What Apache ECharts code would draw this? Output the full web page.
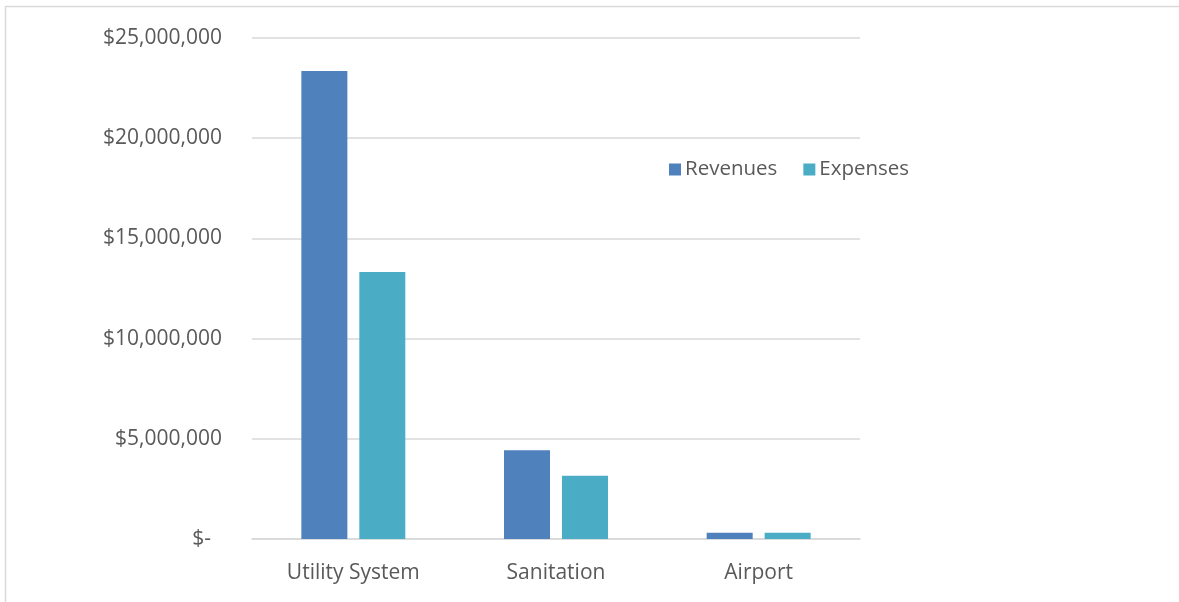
<!DOCTYPE html>
<html>
<head>
<meta charset="utf-8">
<script src="https://cdn.jsdelivr.net/npm/echarts@6/dist/echarts.min.js"></script>
<style>
  html, body { margin: 0; padding: 0; background: #ffffff; }
  #chart { width: 1179px; height: 602px; }
</style>
</head>
<body>
<div id="chart"></div>
<script>
// Fund categories and their annual totals (USD)
const categories = ['Utility System', 'Sanitation', 'Airport'];
const revenues = [23350000, 4430000, 310000];
const expenses = [13320000, 3160000, 310000];
const seriesNames = ['Revenues', 'Expenses'];
const yTicks = { min: 0, max: 25000000, interval: 5000000 };

const TEXT = '#595959';
const FONT = 'Open Sans';

function money(v) {
  if (v === 0) return '$-  ';
  return '$' + v.toLocaleString('en-US');
}

const chart = echarts.init(document.getElementById('chart'), null, { renderer: 'canvas' });

chart.setOption({
  backgroundColor: '#ffffff',
  animation: false,
  textStyle: { fontFamily: FONT, color: TEXT },
  graphic: [{
    type: 'polyline',
    shape: { points: [[5.5, 700], [5.5, 6.5], [1300, 6.5]] },
    style: { fill: 'none', stroke: '#d9d9d9', lineWidth: 1.5 },
    silent: true, z: -10
  }],
  legend: {
    left: 664, top: 154,
    itemWidth: 12, itemHeight: 12, itemGap: 26,
    icon: 'rect',
    textStyle: { fontFamily: FONT, fontSize: 20.5, color: TEXT, padding: [0, 0, 0, -1] },
    data: seriesNames
  },
  grid: { left: 252, right: 319, top: 38, bottom: 63, containLabel: false },
  xAxis: {
    type: 'category',
    data: categories,
    axisLine: { show: true, lineStyle: { color: '#d9d9d9', width: 1.5 } },
    axisTick: { show: false },
    axisLabel: { fontFamily: FONT, fontSize: 21, color: TEXT, margin: 24 }
  },
  yAxis: {
    type: 'value',
    min: yTicks.min, max: yTicks.max, interval: yTicks.interval,
    axisLine: { show: false },
    axisTick: { show: false },
    splitLine: { lineStyle: { color: '#d9d9d9', width: 1.5 } },
    axisLabel: { fontFamily: FONT, fontSize: 21, color: TEXT, margin: 30, formatter: money }
  },
  series: [
    {
      name: seriesNames[0], type: 'bar', data: revenues,
      barWidth: '22.7%', barGap: '26%',
      itemStyle: { color: '#4f81bd' }
    },
    {
      name: seriesNames[1], type: 'bar', data: expenses,
      barWidth: '22.7%', barGap: '26%',
      itemStyle: { color: '#4bacc6' }
    }
  ]
});
</script>
</body>
</html>
